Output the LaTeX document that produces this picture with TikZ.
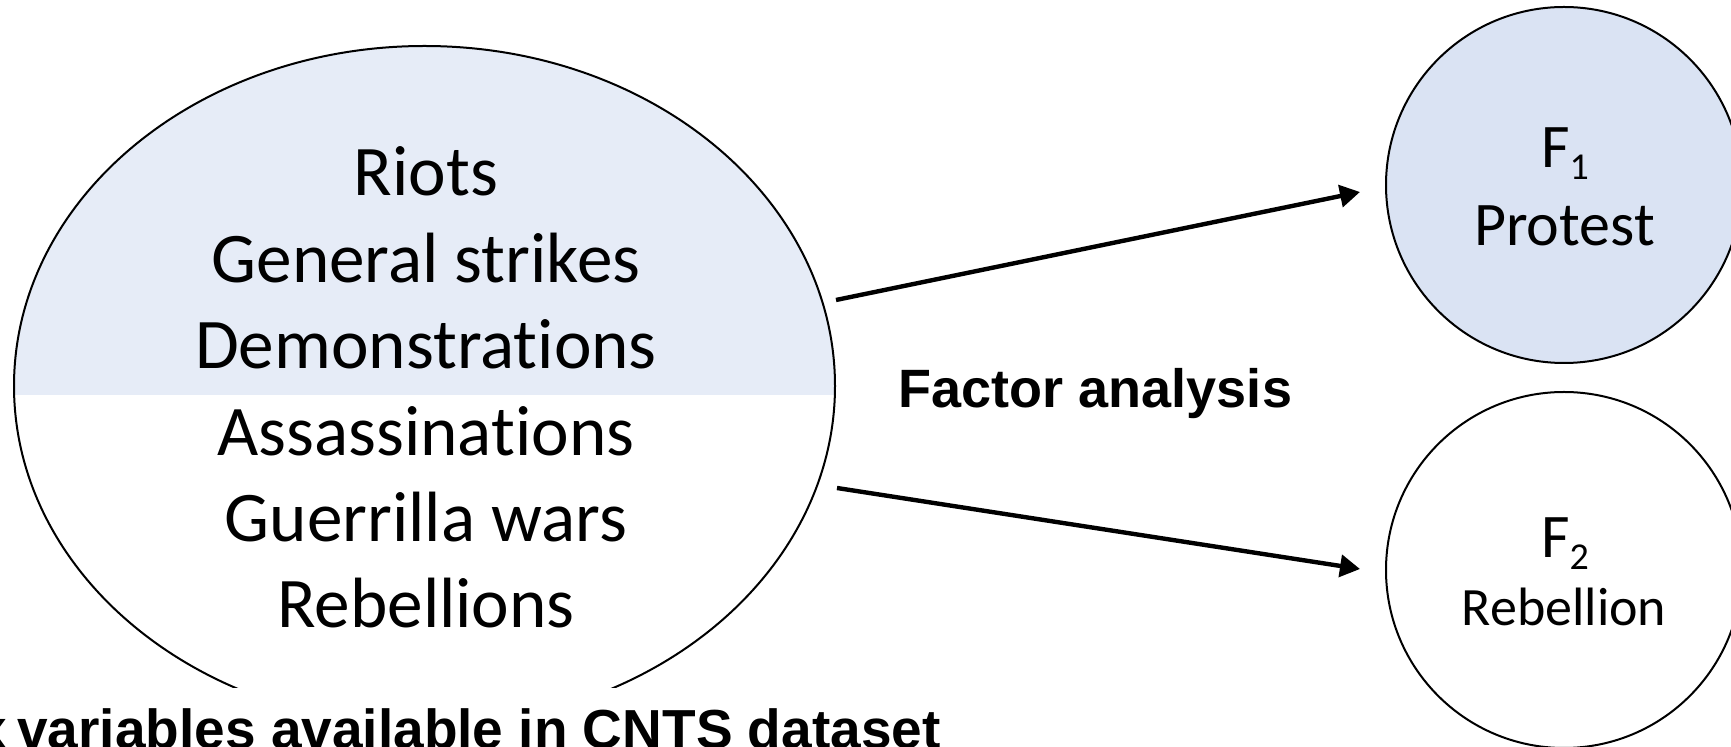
\documentclass[tikz,border=0pt]{standalone}
\usepackage{fontspec}
\setmainfont{Carlito}[Ligatures=NoCommon]
\newfontfamily\labelfont{Liberation Sans}
\usetikzlibrary{shapes.geometric,arrows.meta}
\definecolor{varfill}{HTML}{E6ECF7}
\definecolor{factorfill}{HTML}{DAE3F3}
\tikzset{
  vartext/.style={font=\fontsize{35.6}{40}\selectfont, anchor=base, inner sep=0pt},
  factor/.style={circle, draw=black, line width=1pt, minimum size=178pt, inner sep=0pt},
  symtext/.style={font=\fontsize{31}{36}\selectfont, anchor=base, inner sep=0pt},
  flow/.style={line width=2.2pt, -{Triangle[length=10pt,width=11pt]}},
  caption/.style={font=\labelfont\bfseries\fontsize{27}{30}\selectfont, inner sep=0pt},
}
\begin{document}
\begin{tikzpicture}[x=0.5pt,y=-0.5pt]
\useasboundingbox (0,0) rectangle (1731,747);

% the six CNTS variables, in an ellipse cut off at the bottom
\begin{scope}
  \clip (0,0) rectangle (1731,688);
  \begin{scope}
    \clip (0,0) rectangle (1731,394.6);
    \fill[varfill] (424.5,386) ellipse [x radius=410.5, y radius=340];
  \end{scope}
  \node[ellipse, draw=black, line width=1pt, minimum width=410.5pt,
        minimum height=340pt, inner sep=0pt] (vars) at (424.5,386) {};
\end{scope}

\foreach \txt/\yy [count=\i] in {Riots/196, General strikes/282.5,
    Demonstrations/368.5, Assassinations/456, Guerrilla wars/542,
    Rebellions/628}
  \node[vartext] (v\i) at (426,\yy) {\txt};

% the two factors
\node[factor, fill=factorfill] (f1) at (1564,185) {};
\node[factor] (f2) at (1564,570) {};

\node[symtext] (f1sym) at (1565,168)
  {F\raisebox{-6pt}{\fontsize{19}{22}\selectfont 1}};
\node[symtext] (f1name) at (1564.5,246) {Protest};
\node[symtext] (f2sym) at (1565,557.7)
  {F\raisebox{-6pt}{\fontsize{19}{22}\selectfont 2}};
\node[symtext, font=\fontsize{27}{30}\selectfont] (f2name) at (1564,625.3) {Rebellion};

% factor analysis arrows
\coordinate (s1) at (836,300);
\coordinate (t1) at (1360,192);
\coordinate (s2) at (837,488);
\coordinate (t2) at (1360,569);
\draw[flow] (s1) -- (t1);
\draw[flow] (s2) -- (t2);

\node[caption, anchor=base] (fa) at (1095.5,408) {Factor analysis};
\node[caption, font=\labelfont\bfseries\fontsize{27.5}{30}\selectfont, anchor=base east]
  (ds) at (941,749) {Six\hspace{0.19em}variables available in CNTS dataset};
\end{tikzpicture}
\end{document}
